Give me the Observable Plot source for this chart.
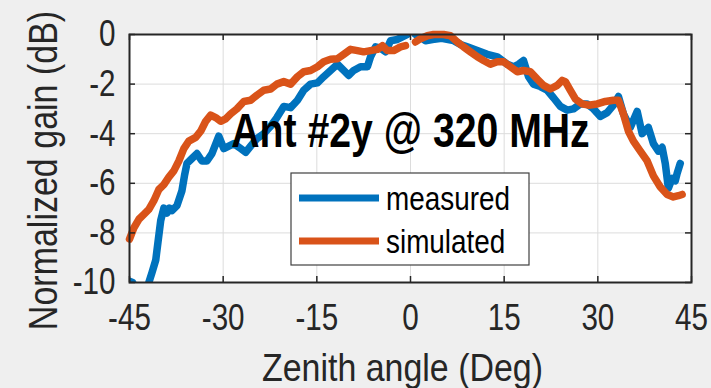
<!DOCTYPE html>
<html><head><meta charset="utf-8">
<script src="https://cdn.jsdelivr.net/npm/d3@7"></script>
<script src="https://cdn.jsdelivr.net/npm/@observablehq/plot@0.6"></script>
<style>body{margin:0;background:#efefef;} #chart{width:711px;height:388px;}</style>
</head><body><div id="chart"></div>
<script>
// ---- data ----
const measuredX = [-45,-44.5,-43.8,-42.6,-41.9,-41.4,-40.8,-40.4,-40.0,-39.5,-39.0,-38.6,-38.2,-37.4,-36.6,-36.2,-35.8,-35.0,-34.2,-33.4,-32.6,-31.8,-30.7,-29.9,-29.1,-28.3,-27.2,-26.4,-25.6,-24.6,-23.5,-22.4,-21.4,-20.3,-19.2,-18.1,-17.1,-16.0,-14.9,-13.9,-12.8,-11.7,-10.7,-9.9,-9.1,-8.0,-6.9,-6.4,-5.6,-4.8,-4.0,-3.2,-2.1,-1.3,-0.5,
  0.2,
  0.8,1.6,2.4,3.5,5.0,6.9,8.0,9.1,10.7,12.3,13.9,15.5,16.5,17.3,18.1,18.9,19.7,20.8,21.9,22.9,24.0,25.1,26.1,27.2,28.3,29.3,30.4,31.5,32.5,33.3,34.1,35.2,35.8,36.3,37.1,38.1,38.9,39.7,40.3,40.8,41.3,41.9,42.4,42.7,43.2];
const measuredY = [-9.95,-10.0,-10.4,-10.4,-10.0,-9.6,-9.1,-8.3,-7.5,-7.0,-7.2,-7.0,-7.1,-6.9,-6.3,-5.7,-5.2,-5.0,-4.8,-5.1,-5.1,-4.8,-4.1,-4.6,-4.5,-4.4,-4.6,-4.75,-4.5,-4.2,-4.0,-3.7,-3.35,-2.9,-2.95,-2.65,-2.25,-2.0,-1.95,-1.7,-1.45,-1.2,-1.45,-1.65,-1.45,-1.3,-1.3,-0.9,-0.5,-0.55,-0.7,-0.25,-0.2,-0.1,0.0,
  NaN,
  0.0,-0.1,-0.25,-0.2,-0.15,-0.25,-0.4,-0.5,-0.65,-0.8,-0.9,-1.2,-1.3,-1.2,-1.05,-1.7,-2.0,-2.1,-2.25,-2.55,-2.9,-3.05,-3.0,-2.8,-2.8,-3.0,-3.3,-3.15,-2.85,-2.5,-3.2,-3.75,-3.4,-3.1,-4.0,-3.75,-4.4,-4.7,-4.55,-5.2,-6.2,-5.8,-5.9,-5.6,-5.2];
const simulatedX = [-45,-44.3,-43.5,-42.7,-41.9,-41.1,-40.3,-39.5,-38.7,-37.9,-37.1,-36.3,-35.5,-34.4,-33.6,-32.8,-32.0,-31.2,-30.4,-29.6,-28.8,-27.8,-26.7,-25.6,-24.6,-23.5,-22.4,-21.4,-20.3,-19.2,-18.1,-17.1,-16.0,-14.9,-13.9,-12.8,-11.7,-10.7,-9.6,-8.5,-7.5,-6.4,-5.3,-4.5,-3.7,-2.7,-1.6,-0.8,
  0.2,
  0.8,1.6,2.7,3.7,5.3,6.4,7.5,8.5,9.6,10.7,11.7,12.8,13.9,14.9,16.0,17.1,18.1,19.2,20.3,21.3,22.4,23.5,24.3,24.8,25.6,26.4,27.5,28.5,29.9,31.2,32.5,33.3,34.1,34.9,35.7,36.8,37.9,38.9,40.0,41.1,42.1,42.9,43.5];
const simulatedY = [-8.25,-7.8,-7.45,-7.25,-7.05,-6.7,-6.25,-6.05,-5.75,-5.5,-5.1,-4.6,-4.3,-4.15,-3.9,-3.5,-3.25,-3.35,-3.5,-3.4,-3.2,-3.0,-2.7,-2.65,-2.45,-2.25,-2.2,-2.0,-1.9,-2.0,-1.7,-1.5,-1.45,-1.3,-1.1,-1.0,-0.98,-0.8,-0.6,-0.65,-0.7,-0.65,-0.6,-0.45,-0.65,-0.65,-0.5,-0.45,
  NaN,
  -0.3,-0.17,-0.05,0,0,-0.05,-0.3,-0.5,-0.7,-0.9,-1.05,-1.2,-1.1,-1.1,-1.3,-1.5,-1.45,-1.5,-1.8,-2.05,-2.2,-2.05,-1.85,-1.9,-2.25,-2.6,-2.8,-2.85,-2.8,-2.7,-2.65,-2.65,-3.2,-3.9,-4.3,-4.7,-5.1,-5.7,-6.15,-6.45,-6.55,-6.5,-6.45];
const xTicks = [-45,-30,-15,0,15,30,45];
const xTickLabels = ["-45","-30","-15","0","15","30","45"];
const yTicks = [0,-2,-4,-6,-8,-10];
const yTickLabels = ["0","-2","-4","-6","-8","-10"];
const seriesNames = ["measured","simulated"];
const seriesColors = ["#0072BD","#D95319"];
const titleText = "Ant #2y @ 320 MHz";
const xLabel = "Zenith angle (Deg)";
const yLabel = "Normalized gain (dB)";

// ---- build ----
const measured = measuredX.map((x,i)=>({x, y: measuredY[i]}));
const simulated = simulatedX.map((x,i)=>({x, y: simulatedY[i]}));
const W=711, H=388, mL=129, mR=20, mT=34, mB=106;
const fw = W-mL-mR, fh = H-mT-mB;
const ink = "#262626";

const chart = Plot.plot({
  width: W, height: H, marginLeft: mL, marginRight: mR, marginTop: mT, marginBottom: mB,
  x: {domain: [-45, 45]},
  y: {domain: [-10, 0]},
  style: {fontFamily: "'Liberation Sans', Arial, sans-serif", background: "transparent", color: ink, overflow: "visible"},
  marks: [
    Plot.frame({fill: "white", stroke: null}),
    Plot.ruleX(xTicks, {stroke: "#dcdcdc", strokeWidth: 1}),
    Plot.ruleY(yTicks, {stroke: "#dcdcdc", strokeWidth: 1}),
    Plot.line(measured, {x: "x", y: "y", stroke: seriesColors[0], strokeWidth: 7.5, clip: true, strokeLinejoin: "round", strokeLinecap: "round"}),
    Plot.line(simulated, {x: "x", y: "y", stroke: seriesColors[1], strokeWidth: 7.5, strokeLinejoin: "round", strokeLinecap: "round"}),
    Plot.tickX(xTicks, {x: d => d, insetTop: fh - 6, stroke: ink, strokeWidth: 1.5}),
    Plot.tickX(xTicks, {x: d => d, insetBottom: fh - 6, stroke: ink, strokeWidth: 1.5}),
    Plot.tickY(yTicks, {y: d => d, insetRight: fw - 6, stroke: ink, strokeWidth: 1.5}),
    Plot.tickY(yTicks, {y: d => d, insetLeft: fw - 6, stroke: ink, strokeWidth: 1.5}),
    Plot.frame({stroke: ink, strokeWidth: 2}),
    Plot.axisX({ticks: xTicks, tickSize: 0, tickPadding: 21, tickFormat: d => xTickLabels[xTicks.indexOf(d)], fontSize: 37, label: null}),
    Plot.axisY({ticks: yTicks, tickSize: 0, tickPadding: 14, tickFormat: d => yTickLabels[yTicks.indexOf(d)], fontSize: 37, label: null}),
    Plot.text([titleText], {frameAnchor: "top", textAnchor: "middle", lineAnchor: "top", dy: 79, fontSize: 47.5, fontWeight: "bold", fill: "black", className: "t-title"}),
    Plot.text([xLabel], {frameAnchor: "bottom", textAnchor: "middle", lineAnchor: "bottom", dy: 98, dx: -8, fontSize: 39, className: "t-xlabel"}),
    Plot.text([yLabel], {frameAnchor: "left", textAnchor: "middle", lineAnchor: "bottom", rotate: -90, dx: -73, dy: 12, fontSize: 40, className: "t-ylabel"})
  ]
});
document.getElementById("chart").appendChild(chart);

// legend inside the axes
const svg = d3.select(chart);
const lg = svg.append("g").attr("aria-label", "legend");
lg.append("rect").attr("x", 291).attr("y", 173).attr("width", 238).attr("height", 92)
  .attr("fill", "white").attr("stroke", "#404040").attr("stroke-width", 1.2);
seriesNames.forEach((name, i) => {
  const cy = 198 + i * 43;
  lg.append("line").attr("x1", 299).attr("x2", 379).attr("y1", cy).attr("y2", cy)
    .attr("stroke", seriesColors[i]).attr("stroke-width", 7);
  lg.append("text").attr("class", "legend-text").attr("x", 386).attr("y", cy + 12)
    .attr("text-anchor", "start").attr("font-size", 33).attr("fill", "black").text(name);
});

// condense text horizontally (reference uses a narrow face)
function squeeze(selector, f) {
  chart.querySelectorAll(selector).forEach(t => {
    const L = t.getComputedTextLength();
    if (L > 0) { t.setAttribute("textLength", (L * f).toFixed(1)); t.setAttribute("lengthAdjust", "spacingAndGlyphs"); }
  });
}
squeeze('g[aria-label="x-axis tick label"] text', 0.80);
squeeze('g[aria-label="y-axis tick label"] text', 0.80);
squeeze('.t-title text, text.t-title', 0.825);
squeeze('.t-xlabel text, text.t-xlabel', 0.87);
squeeze('.t-ylabel text, text.t-ylabel', 0.85);
squeeze('text.legend-text', 0.845);
</script>
</body></html>
